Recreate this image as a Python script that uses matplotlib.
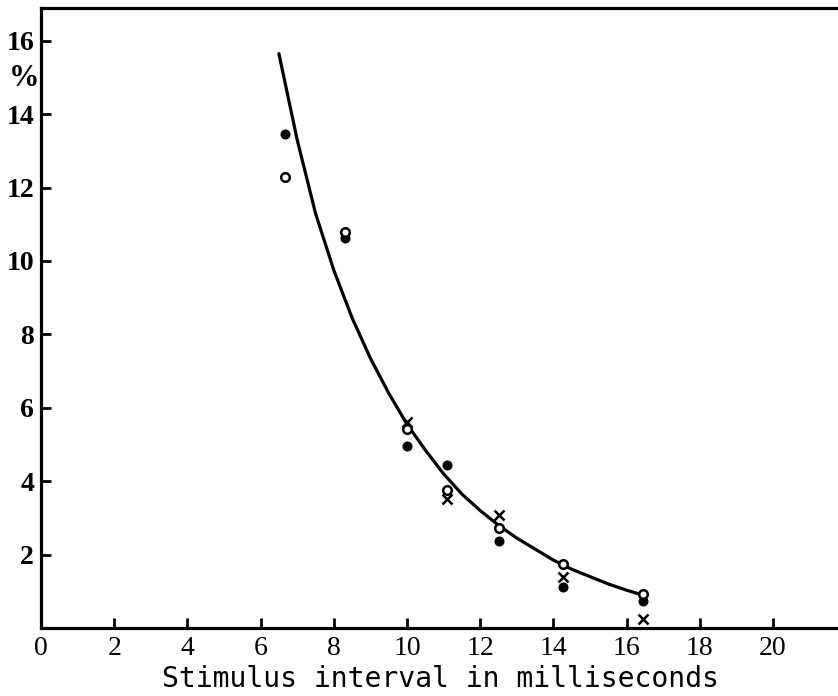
import matplotlib
matplotlib.use("Agg")
import matplotlib.pyplot as plt

# ---- data ----
filled_x = [6.67, 8.31, 10.0, 11.09, 12.5, 14.26, 16.45]
filled_y = [13.45, 10.63, 4.95, 4.44, 2.37, 1.12, 0.74]

open_x = [6.67, 8.31, 10.0, 11.09, 12.5, 14.26, 16.45]
open_y = [12.30, 10.78, 5.42, 3.76, 2.72, 1.74, 0.93]

cross_x = [10.0, 11.09, 12.5, 14.26, 16.45]
cross_y = [5.61, 3.51, 3.08, 1.39, 0.25]

curve_x = [6.5, 7.0, 7.5, 8.0, 8.5, 9.0, 9.5, 10.0, 10.5, 11.0, 11.5, 12.0,
           12.5, 13.0, 13.5, 14.0, 14.5, 15.0, 15.5, 16.0, 16.5]
curve_y = [15.65, 13.3, 11.3, 9.75, 8.45, 7.35, 6.4, 5.55, 4.85, 4.2, 3.65, 3.2,
           2.8, 2.45, 2.15, 1.85, 1.6, 1.4, 1.2, 1.03, 0.88]

x_ticks = [0, 2, 4, 6, 8, 10, 12, 14, 16, 18, 20]
y_ticks = [2, 4, 6, 8, 10, 12, 14, 16]
x_label = "Stimulus interval in milliseconds"
y_unit = "%"

W, H = 838, 696
fig = plt.figure(figsize=(W / 100, H / 100), dpi=100)
left_px, top_px, bottom_px = 41, 8, 628
ax = fig.add_axes([left_px / W, 1 - bottom_px / H, 1 - left_px / W,
                   (bottom_px - top_px) / H])

ax.plot(curve_x, curve_y, color="black", lw=2.3, solid_capstyle="round",
        solid_joinstyle="round")
ax.plot(filled_x, filled_y, "o", color="black", ms=6.2, zorder=3)
ax.plot(open_x, open_y, "o", mfc="white", mec="black", mew=1.8, ms=6.2, zorder=4)
ax.plot(cross_x, cross_y, "x", color="black", mew=1.8, ms=6.5, zorder=3)

ax.set_xlim(0, (W - left_px) / 36.6)
ax.set_ylim(0, (bottom_px - top_px) / 36.7)

for s in ["left", "bottom", "top"]:
    ax.spines[s].set_linewidth(2.3)
ax.spines["right"].set_visible(False)

ax.set_xticks(x_ticks)
ax.set_yticks(y_ticks)
ax.tick_params(axis="both", direction="in", length=7, width=2.0, color="black")
ax.tick_params(axis="y", pad=5)
ax.tick_params(axis="x", pad=6)
ax.set_xticklabels([str(v) for v in x_ticks], family="Liberation Serif",
                   fontsize=20)
ax.set_yticklabels([str(v) for v in y_ticks], family="Liberation Serif",
                   fontsize=20, fontweight="bold")

fig.text(24 / W, 1 - 78 / H, y_unit, ha="center", va="center",
         family="Liberation Serif", fontsize=22, fontweight="bold")

t = fig.text(440 / W, 1 - 679 / H, x_label, ha="center", va="center",
             family="DejaVu Sans Mono", fontsize=20)
fig.canvas.draw()
bb = t.get_window_extent()
t.set_fontsize(20 * 559 / bb.width)

fig.savefig("out.png", dpi=100)
